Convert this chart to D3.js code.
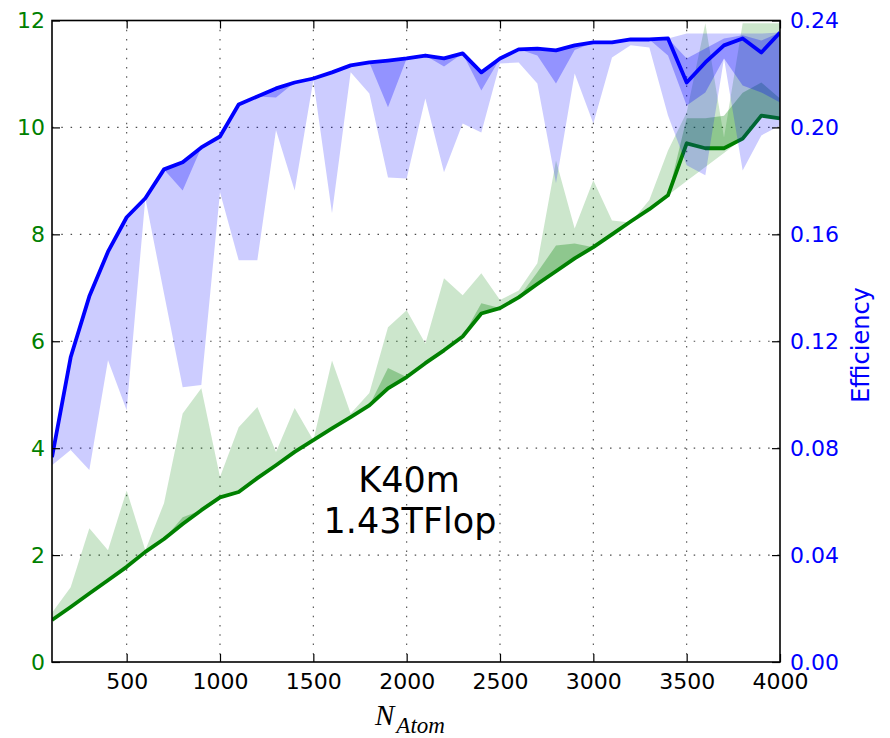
<!DOCTYPE html>
<html><head><meta charset="utf-8">
<script src="https://cdn.jsdelivr.net/npm/d3@7"></script>
<style>body{margin:0;background:#fff}</style>
</head><body>
<svg id="c" width="890" height="738"></svg>
<script>
// ---- data ----
const nAtom = [100,200,300,400,500,600,700,800,900,1000,
  1100,1200,1300,1400,1500,1600,1700,1800,1900,2000,
  2100,2200,2300,2400,2500,2600,2700,2800,2900,3000,
  3100,3200,3300,3400,3500,3600,3700,3800,3900,4000];

// Efficiency (right axis)
const effLine = [0.0766,0.114,0.1368,0.1535,0.1664,0.1735,0.1843,0.187,0.1925,0.1966,
  0.2086,0.2116,0.2146,0.2168,0.2183,0.2206,0.2232,0.2243,0.225,0.2258,
  0.2269,0.2258,0.2277,0.2206,0.2258,0.2292,0.2295,0.2288,0.2307,0.2318,
  0.2318,0.2329,0.2329,0.2333,0.2168,0.2243,0.2307,0.2333,0.228,0.2355];
const effLightLo = [0.0736,0.0793,0.0718,0.1129,0.0942,0.1735,0.1379,0.1028,0.1036,0.1757,
  0.1503,0.1503,0.1989,0.1764,0.2176,0.1679,0.2206,0.2127,0.1813,0.1809,
  0.2108,0.1832,0.2015,0.1981,0.2239,0.2243,0.2164,0.1791,0.2202,0.2015,
  0.2262,0.2307,0.2299,0.2045,0.1858,0.1821,0.2258,0.1839,0.197,0.2007];
const effLightHi = [0.0766,0.114,0.1368,0.1535,0.1664,0.1735,0.1843,0.187,0.1925,0.1966,
  0.2086,0.2116,0.2146,0.2168,0.2183,0.2206,0.2232,0.2243,0.225,0.2258,
  0.2269,0.2258,0.2277,0.2206,0.2258,0.2292,0.2295,0.2288,0.2307,0.2318,
  0.2318,0.2329,0.2329,0.2333,0.2351,0.2351,0.2351,0.2351,0.2351,0.2355];
const effDarkLo = [0.0766,0.114,0.1368,0.1535,0.1664,0.1735,0.1843,0.1764,0.1925,0.1966,
  0.2086,0.2116,0.2112,0.2168,0.2183,0.2206,0.2232,0.2243,0.2075,0.2258,
  0.2269,0.2228,0.2277,0.2138,0.2258,0.2292,0.2269,0.2164,0.229,0.2318,
  0.2318,0.2329,0.2329,0.2269,0.2082,0.2131,0.2258,0.2157,0.2131,0.2093];
const effDarkHi = [0.0766,0.114,0.1368,0.1535,0.1664,0.1735,0.1843,0.187,0.1925,0.1966,
  0.2086,0.2116,0.2146,0.2168,0.2183,0.2206,0.2232,0.2243,0.225,0.2258,
  0.2269,0.2258,0.2277,0.2206,0.2258,0.2292,0.2295,0.2288,0.2307,0.2318,
  0.2318,0.2329,0.2329,0.2333,0.2258,0.2295,0.2333,0.2345,0.2325,0.2355];

// Performance (left axis)
const perfLine = [0.785,1.03,1.28,1.53,1.78,2.06,2.30,2.58,2.84,3.08,
  3.18,3.44,3.68,3.93,4.15,4.37,4.58,4.80,5.12,5.33,
  5.59,5.83,6.09,6.52,6.62,6.82,7.07,7.31,7.55,7.76,
  8.0,8.24,8.47,8.73,9.7,9.61,9.61,9.79,10.22,10.17];
const perfLightLo = [0.785,1.03,1.28,1.53,1.78,2.06,2.30,2.58,2.84,3.08,
  3.18,3.44,3.68,3.93,4.15,4.37,4.58,4.80,5.12,5.33,
  5.59,5.83,6.09,6.52,6.62,6.82,7.07,7.31,7.55,7.76,
  8.0,8.24,8.47,8.73,9.0,9.26,9.52,9.79,10.22,10.17];
const perfLightHi = [0.92,1.40,2.50,2.09,3.21,2.09,2.97,4.65,5.12,3.46,
  4.39,4.77,3.93,4.75,4.15,5.64,4.65,5.03,6.26,6.58,
  5.96,7.18,6.86,7.27,6.77,6.95,7.46,9.38,8.11,9.01,
  8.26,8.22,8.64,9.57,10.28,11.95,9.81,11.95,11.95,11.95];
const perfDarkLo = [0.785,1.03,1.28,1.53,1.78,2.06,2.30,2.58,2.84,3.08,
  3.18,3.44,3.68,3.93,4.15,4.37,4.58,4.80,5.12,5.33,
  5.59,5.83,6.09,6.52,6.62,6.82,7.07,7.31,7.55,7.76,
  8.0,8.24,8.47,8.73,9.7,9.61,9.61,9.79,10.22,10.17];
const perfDarkHi = [0.785,1.03,1.28,1.53,1.78,2.06,2.30,2.71,2.84,3.08,
  3.18,3.44,3.68,3.93,4.15,4.37,4.58,4.80,5.5,5.33,
  5.59,5.83,6.09,6.71,6.62,6.82,7.29,7.79,7.83,7.76,
  8.0,8.24,8.47,8.73,10.17,10.17,10.22,10.65,10.84,10.54];

const xTicks = [500,1000,1500,2000,2500,3000,3500,4000];
const leftTicks = [0,2,4,6,8,10,12];
const rightTicks = [0,0.04,0.08,0.12,0.16,0.2,0.24];
const annotation = ["K40m","1.43TFlop"];

// ---- layout ----
const L = 52, R = 780, T = 20.5, B = 662;
const svg = d3.select("#c");
const font = "DejaVu Sans, sans-serif";

const x = d3.scaleLinear().domain([100,4000]).range([L,R]);
const yL = d3.scaleLinear().domain([0,12]).range([B,T]);
const yR = d3.scaleLinear().domain([0,0.24]).range([B,T]);

svg.append("defs").append("clipPath").attr("id","clip")
  .append("rect").attr("x",L).attr("y",T).attr("width",R-L).attr("height",B-T);

// grid
const grid = svg.append("g").attr("stroke","#000").attr("stroke-width",1.1)
  .attr("stroke-dasharray","1.5,7.8").attr("opacity",0.7);
xTicks.filter(v=>v<4000).forEach(v=>{
  grid.append("line").attr("x1",x(v)).attr("x2",x(v)).attr("y1",T).attr("y2",B);
});
leftTicks.filter(v=>v>0&&v<12).forEach(v=>{
  grid.append("line").attr("x1",L).attr("x2",R).attr("y1",yL(v)).attr("y2",yL(v));
});

const plot = svg.append("g").attr("clip-path","url(#clip)");
const idx = d3.range(nAtom.length);
function band(lo, hi, ys){
  return d3.area().x(i=>x(nAtom[i])).y0(i=>ys(lo[i])).y1(i=>ys(hi[i]))(idx);
}
function line(v, ys){
  return d3.line().x(i=>x(nAtom[i])).y(i=>ys(v[i]))(idx);
}

// green (left axis)
plot.append("path").attr("d",band(perfLightLo,perfLightHi,yL)).attr("fill","#008000").attr("fill-opacity",0.2);
plot.append("path").attr("d",band(perfDarkLo,perfDarkHi,yL)).attr("fill","#008000").attr("fill-opacity",0.3);
plot.append("path").attr("d",line(perfLine,yL)).attr("fill","none").attr("stroke","#008000")
  .attr("stroke-width",3.8).attr("stroke-linejoin","round");

// blue (right axis)
plot.append("path").attr("d",band(effLightLo,effLightHi,yR)).attr("fill","#0000ff").attr("fill-opacity",0.2);
plot.append("path").attr("d",band(effDarkLo,effDarkHi,yR)).attr("fill","#0000ff").attr("fill-opacity",0.28);
plot.append("path").attr("d",line(effLine,yR)).attr("fill","none").attr("stroke","#0000ff")
  .attr("stroke-width",3.8).attr("stroke-linejoin","round");

// axes
const axB = svg.append("g").attr("transform",`translate(0,${B})`)
  .call(d3.axisBottom(x).tickValues(xTicks).tickSizeInner(-8).tickSizeOuter(0).tickPadding(11).tickFormat(d3.format("d")));
const axT = svg.append("g").attr("transform",`translate(0,${T})`)
  .call(d3.axisTop(x).tickValues(xTicks).tickSizeInner(-8).tickSizeOuter(0).tickFormat(""));
const axL = svg.append("g").attr("transform",`translate(${L},0)`)
  .call(d3.axisLeft(yL).tickValues(leftTicks).tickSizeInner(-8).tickSizeOuter(0).tickPadding(7).tickFormat(d3.format("d")));
const axR = svg.append("g").attr("transform",`translate(${R},0)`)
  .call(d3.axisRight(yR).tickValues(rightTicks).tickSizeInner(-8).tickSizeOuter(0).tickPadding(10).tickFormat(d3.format(".2f")));
[axB,axT,axL,axR].forEach(a=>{
  a.select(".domain").remove();
  a.selectAll(".tick line").attr("stroke","#000").attr("stroke-width",1.2);
  a.selectAll("text").attr("font-family",font).attr("font-size",22);
});
axB.selectAll("text").attr("fill","#000");
axL.selectAll("text").attr("fill","#008000");
axR.selectAll("text").attr("fill","#0000ff");

// frame
svg.append("rect").attr("x",L).attr("y",T).attr("width",R-L).attr("height",B-T)
  .attr("fill","none").attr("stroke","#000").attr("stroke-width",1.6);

// annotation
svg.append("text").attr("x",409).attr("y",492).attr("text-anchor","middle")
  .attr("font-family",font).attr("font-size",35).attr("fill","#000").text(annotation[0]);
svg.append("text").attr("x",410).attr("y",533).attr("text-anchor","middle")
  .attr("font-family",font).attr("font-size",35).attr("fill","#000").text(annotation[1]);

// axis labels
svg.append("text").attr("transform","translate(869,345) rotate(-90)").attr("text-anchor","middle")
  .attr("font-family",font).attr("font-size",24).attr("fill","#0000ff").text("Efficiency");
const xl = svg.append("text").attr("x",375).attr("y",725).attr("font-family","Liberation Serif, DejaVu Serif, serif")
  .attr("font-style","italic").attr("fill","#000");
xl.append("tspan").attr("font-size",29).text("N");
xl.append("tspan").attr("font-size",23).attr("dx",2).attr("dy",8).text("Atom");
</script>
</body></html>
